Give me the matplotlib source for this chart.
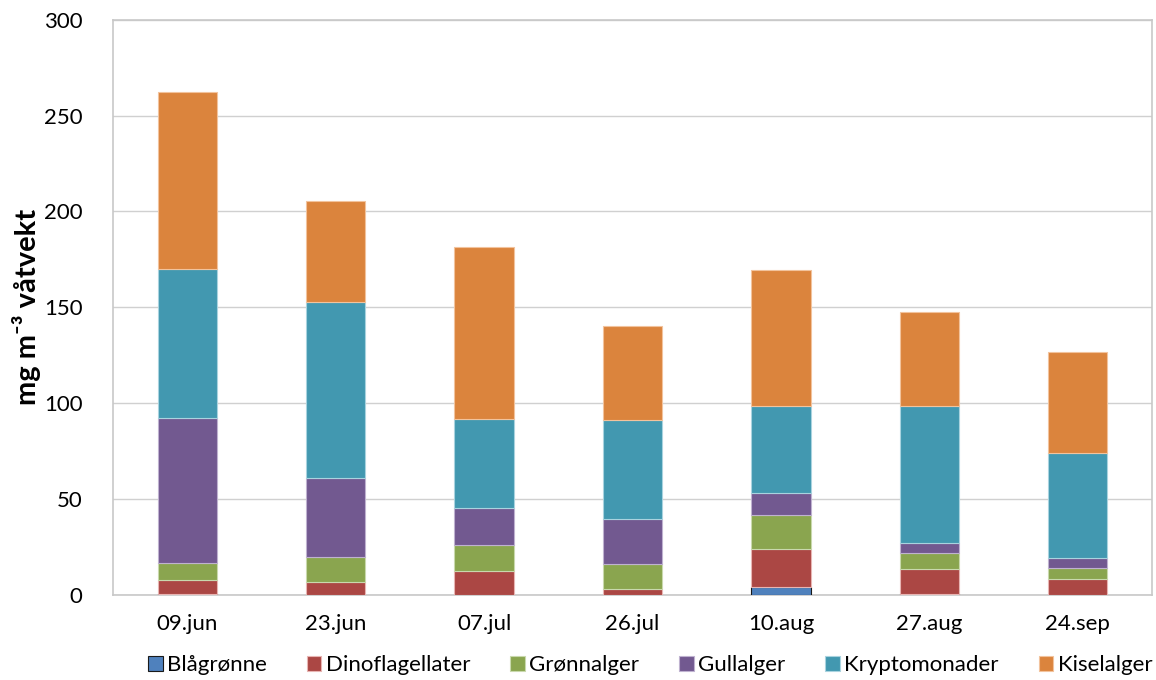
import matplotlib.pyplot as plt
import numpy as np

datoer = ["09.jun", "23.jun", "07.jul", "26.jul", "10.aug", "27.aug", "24.sep"]
grupper = ["Blågrønne", "Dinoflagellater", "Grønnalger", "Gullalger", "Kryptomonader", "Kiselalger"]

blagronne = [0.5, 0, 0, 0, 4.0, 0.5, 0]
dinoflagellater = [7.3, 6.9, 12.7, 3.1, 20.1, 13.2, 8.3]
gronnalger = [9.0, 13.0, 13.3, 12.9, 17.6, 8.3, 5.9]
gullalger = [75.7, 41.2, 19.2, 23.7, 11.4, 4.9, 5.2]
kryptomonader = [77.7, 91.7, 46.5, 51.4, 45.2, 71.7, 54.4]
kiselalger = [91.9, 52.9, 89.9, 49.0, 71.3, 49.2, 52.8]

serier = [blagronne, dinoflagellater, gronnalger, gullalger, kryptomonader, kiselalger]
farger = ["#4f81bd", "#ab4744", "#8aa54f", "#725990", "#4298b0", "#db843d"]
kanter = ["#1a1a1a", "#e8b5b3", "#c9d9ad", "#bfb2d0", "#a9d3df", "#f2c39d"]

plt.rcParams['font.family'] = ['Lato', 'DejaVu Sans']

fig = plt.figure(figsize=(11.56, 6.8), dpi=100)
ax = fig.add_axes([0.0978, 0.125, 0.8987, 0.846])

x = np.arange(len(datoer))
bunn = np.zeros(len(datoer))
for navn, verdier, farge, kant in zip(grupper, serier, farger, kanter):
    v = np.array(verdier)
    ax.bar(x, v, 0.4, bottom=bunn, color=farge, edgecolor=kant, linewidth=0.8,
           label=navn, zorder=3)
    bunn += v

ax.set_xlim(-0.5, len(datoer) - 0.5)
ax.set_ylim(0, 300)
ax.set_yticks(range(0, 301, 50))
ax.set_xticks(x)
ax.set_xticklabels(datoer)
ax.tick_params(axis='both', length=0, labelsize=16, colors='#000000')
ax.tick_params(axis='y', pad=22)
ax.tick_params(axis='x', pad=14)
ax.yaxis.grid(True, color='#d0d0d0', linewidth=1, zorder=0)
for s in ax.spines.values():
    s.set_color('#c8c8c8')
    s.set_linewidth(1.2)

ax.set_ylabel("mg m⁻³ våtvekt", fontsize=21, fontweight='bold', labelpad=2)

ax.legend(loc='upper center', bbox_to_anchor=(0.517, -0.078), ncol=6, frameon=False,
          fontsize=16, handlelength=0.65, handleheight=0.65, handletextpad=0.2,
          columnspacing=1.8, borderpad=0.2)

plt.savefig("out.png", dpi=100)
